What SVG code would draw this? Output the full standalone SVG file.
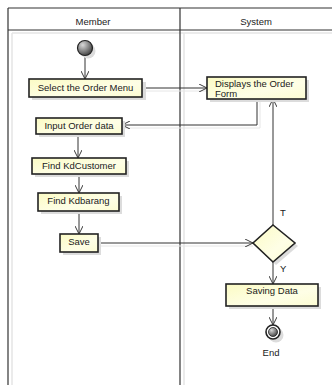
<svg xmlns="http://www.w3.org/2000/svg" width="332" height="385" viewBox="0 0 332 385">
  <defs>
    <linearGradient id="boxFill" x1="0" y1="0" x2="1" y2="1">
      <stop offset="0" stop-color="#fbfbc4"/>
      <stop offset="0.6" stop-color="#fefee6"/>
      <stop offset="1" stop-color="#fcfcd2"/>
    </linearGradient>
    <radialGradient id="ballFill" cx="0.35" cy="0.3" r="0.8">
      <stop offset="0" stop-color="#d8d8d8"/>
      <stop offset="0.6" stop-color="#777"/>
      <stop offset="1" stop-color="#333"/>
    </radialGradient>
    <marker id="open" viewBox="0 0 10 10" refX="10" refY="5" markerWidth="8" markerHeight="8" markerUnits="userSpaceOnUse" orient="auto">
      <path d="M0,0 L10,5 L0,10" fill="none" stroke="#333" stroke-width="1.2"/>
    </marker>
    <style>
      .lane { stroke: #333; stroke-width: 1.2; fill: none; }
      .laneShade { stroke: #e4e4e4; stroke-width: 1.5; fill: none; }
      .head { font-family: "Liberation Sans", Arial, sans-serif; font-size: 9.5px; fill: #222; text-anchor: middle; }
      .box { fill: url(#boxFill); stroke: #222; stroke-width: 1.6; }
      .shadow { fill: #dcdcdc; }
      .label { font-family: "Liberation Sans", Arial, sans-serif; font-size: 9.5px; fill: #1a1a1a; text-anchor: middle; }
      .left { text-anchor: start; }
      .edge { stroke: #333; stroke-width: 1; fill: none; }
      .edgeShade { stroke: #e6e6e6; stroke-width: 1; fill: none; }
    </style>
  </defs>

  <rect width="332" height="385" fill="#fff"/>

  <!-- swimlanes -->
  <g id="lanes">
    <line class="laneShade" x1="12" y1="33" x2="12" y2="385"/>
    <line class="laneShade" x1="184" y1="33" x2="184" y2="385"/>
    <line class="laneShade" x1="12" y1="33" x2="332" y2="33"/>
    <line class="lane" x1="8" y1="8" x2="332" y2="8"/>
    <line class="lane" x1="8" y1="8" x2="8" y2="385"/>
    <line class="lane" x1="8" y1="30" x2="332" y2="30"/>
    <line class="lane" x1="180" y1="8" x2="180" y2="385"/>
    <text class="head" x="93" y="25">Member</text>
    <text class="head" x="256" y="25">System</text>
  </g>

  <!-- connectors -->
  <g id="connectors">
    <path class="edgeShade" d="M145,91 H207"/>
    <path class="edgeShade" d="M260,101 V128 H125"/>
    <path class="edgeShade" d="M101,246 H253"/>
    <path class="edge" d="M85,56 V79" marker-end="url(#open)"/>
    <path class="edge" d="M142,88 H207" marker-end="url(#open)"/>
    <path class="edge" d="M257,99 V125 H122" marker-end="url(#open)"/>
    <path class="edge" d="M78,134 V158" marker-end="url(#open)"/>
    <path class="edge" d="M79,174 V193" marker-end="url(#open)"/>
    <path class="edge" d="M79,211 V234" marker-end="url(#open)"/>
    <path class="edge" d="M98,243 H253" marker-end="url(#open)"/>
    <path class="edge" d="M273,225 V99" marker-end="url(#open)"/>
    <path class="edge" d="M273,262 V284" marker-end="url(#open)"/>
    <path class="edge" d="M273,306 V325" marker-end="url(#open)"/>
    <text class="label left" x="280" y="216">T</text>
    <text class="label left" x="280" y="272">Y</text>
  </g>

  <g id="start">
    <circle cx="88" cy="51" r="7.5" class="shadow"/>
    <circle cx="85" cy="48" r="7.5" fill="url(#ballFill)" stroke="#222" stroke-width="1.2"/>
  </g>

  <g id="selectMenu">
    <rect class="shadow" x="32" y="82" width="114" height="18"/>
    <rect class="box" x="29" y="79" width="113" height="18"/>
    <text class="label" x="85.5" y="91">Select the Order Menu</text>
  </g>

  <g id="displayForm">
    <rect class="shadow" x="210" y="80" width="99" height="22"/>
    <rect class="box" x="207" y="77" width="99" height="22"/>
    <text class="label left" x="215" y="86.5">Displays the Order</text>
    <text class="label left" x="215" y="96.5">Form</text>
  </g>

  <g id="inputOrder">
    <rect class="shadow" x="39" y="121" width="86" height="16"/>
    <rect class="box" x="36" y="118" width="86" height="16"/>
    <text class="label" x="79" y="129">Input Order data</text>
  </g>

  <g id="findCustomer">
    <rect class="shadow" x="35" y="161" width="94" height="16"/>
    <rect class="box" x="32" y="158" width="94" height="16"/>
    <text class="label" x="79" y="168.5">Find KdCustomer</text>
  </g>

  <g id="findBarang">
    <rect class="shadow" x="41" y="196" width="81" height="18"/>
    <rect class="box" x="38" y="193" width="81" height="18"/>
    <text class="label" x="78.5" y="203.5">Find Kdbarang</text>
  </g>

  <g id="save">
    <rect class="shadow" x="63" y="237" width="38" height="18"/>
    <rect class="box" x="60" y="234" width="38" height="18"/>
    <text class="label" x="79" y="244.5">Save</text>
  </g>

  <g id="decision">
    <polygon class="shadow" points="276,228 298,246 276,265 256,246"/>
    <polygon class="box" points="273,225 295,243 273,262 253,243"/>
  </g>

  <g id="savingData">
    <rect class="shadow" x="229" y="287" width="92" height="22"/>
    <rect class="box" x="226" y="284" width="92" height="22"/>
    <text class="label" x="272" y="293.5">Saving Data</text>
  </g>

  <g id="end">
    <circle cx="276" cy="335" r="7.5" class="shadow"/>
    <circle cx="273" cy="332" r="7" fill="#fff" stroke="#222" stroke-width="1.6"/>
    <circle cx="273" cy="332" r="4.5" fill="url(#ballFill)" stroke="#222" stroke-width="0.8"/>
    <text class="label" x="271" y="355.5">End</text>
  </g>
</svg>
